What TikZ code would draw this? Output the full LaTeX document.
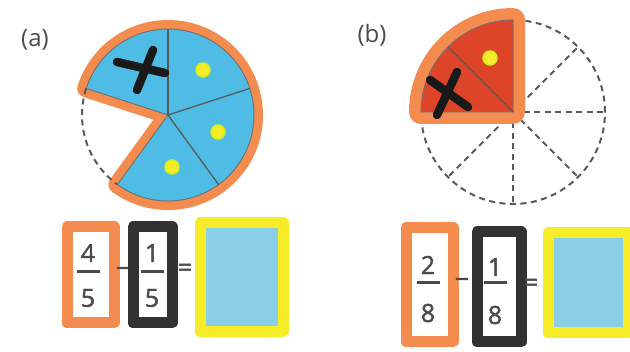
\documentclass[tikz,border=0pt]{standalone}
\usepackage{fontspec}
\setmainfont{Open Sans}
\definecolor{pieorange}{RGB}{243,140,78}
\definecolor{pieblue}{RGB}{78,188,228}
\definecolor{piered}{RGB}{222,68,40}
\definecolor{answerblue}{RGB}{138,206,232}
\definecolor{hiyellow}{RGB}{246,236,40}
\definecolor{inkgray}{RGB}{75,75,75}
\definecolor{boxdark}{RGB}{50,50,50}
\begin{document}
\begin{tikzpicture}[x=1pt,y=1pt,
  rim/.style={draw=pieorange, line width=18pt, line join=round},
  slice/.style={draw=black!65, line width=1.3pt},
  missing/.style={draw=black!65, dash pattern=on 6pt off 4.5pt, line width=2pt},
  cross/.style={draw=black!90, line width=8.5pt, line cap=round},
  dot/.style={circle, fill=hiyellow, draw=hiyellow!85!green, line width=1.5pt, inner sep=0pt, minimum size=14pt},
  tag/.style={text=inkgray, font=\fontsize{24}{28}\selectfont},
  digit/.style={text=inkgray, font=\fontsize{25}{30}\selectfont\addfontfeature{FakeBold=1.5}, inner sep=0pt},
  fracbar/.style={draw=inkgray, line width=3pt},
  penbox/.style={draw=#1, line width=11pt, line join=round, inner sep=0pt},
  answer/.style={penbox=hiyellow, fill=answerblue}]
  \useasboundingbox (0,0) rectangle (630,352);

  % Left panel: four fifths left, one crossed out
  \begin{scope}
    \node[tag] (laba) at (35,312) {(a)};
    \coordinate (ca) at (168,237);
    \path[rim] (ca) -- ++(-126:86) arc[start angle=-126, end angle=162, radius=86] -- cycle;
    \path[fill=pieblue, draw=black!55, line width=1pt] (ca) -- ++(-126:86) arc[start angle=-126, end angle=162, radius=86] -- cycle;
    \foreach \a in {18,90,-54}
      \draw[slice] (ca) -- ++(\a:86);
    \draw[missing] (ca) ++(162:86) arc[start angle=162, end angle=234, radius=86];

    \draw[cross] (153,302) -- (137,262);
    \draw[cross] (117,290) -- (165,279);
    \node[dot] (dota1) at (203,282) {};
    \node[dot] (dota2) at (218,220) {};
    \node[dot] (dota3) at (172,185) {};

    \node[penbox=pieorange, minimum width=47, minimum height=96] (boxa1) at (90.5,77) {};
    \node[digit] (numa1) at (88,99) {4};
    \draw[fracbar] (77,80) -- (100,80);
    \node[digit] (dena1) at (88,54) {5};
    \node[digit] (minusa) at (123,80) {−};
    \node[penbox=boxdark, minimum width=39, minimum height=96] (boxa2) at (152.5,77) {};
    \node[digit] (numa2) at (152,99) {1};
    \draw[fracbar] (141,80) -- (164,80);
    \node[digit] (dena2) at (152,54) {5};
    \node[digit] (eqa) at (185,82) {=};
    \node[answer, minimum width=83, minimum height=109] (ansa) at (241.5,74.5) {};
  \end{scope}

  % Right panel: two eighths left, one crossed out
  \begin{scope}
    \node[tag] (labb) at (372,317) {(b)};
    \coordinate (cb) at (513,240);
    \draw[missing] (cb) circle[radius=92];
    \foreach \a in {0,45,-45,-90,-135}
      \draw[missing] (cb) -- ++(\a:92);
    \path[rim, line width=24pt] (cb) -- ++(180:92) arc[start angle=180, end angle=90, radius=92] -- cycle;
    \path[fill=piered, draw=black!55, line width=1pt] (cb) -- ++(180:92) arc[start angle=180, end angle=90, radius=92] -- cycle;
    \draw[slice] (cb) -- ++(135:92);

    \draw[cross] (457,280) -- (437,237);
    \draw[cross] (430,272) -- (468,245);
    \node[dot] (dotb1) at (490,294) {};

    \node[penbox=pieorange, minimum width=47, minimum height=114] (boxb1) at (429.5,67) {};
    \node[digit] (numb1) at (428,87) {2};
    \draw[fracbar] (417,69) -- (440,69);
    \node[digit] (denb1) at (428,39) {8};
    \node[digit] (minusb) at (462,69) {−};
    \node[penbox=boxdark, minimum width=44, minimum height=110] (boxb2) at (499,65) {};
    \node[digit] (numb2) at (495,85) {1};
    \draw[fracbar] (484,69) -- (507,69);
    \node[digit] (denb2) at (495,37) {8};
    \node[digit] (eqb) at (531,67) {=};
    \node[answer, minimum width=80, minimum height=100] (ansb) at (588,69) {};
  \end{scope}
\end{tikzpicture}
\end{document}
